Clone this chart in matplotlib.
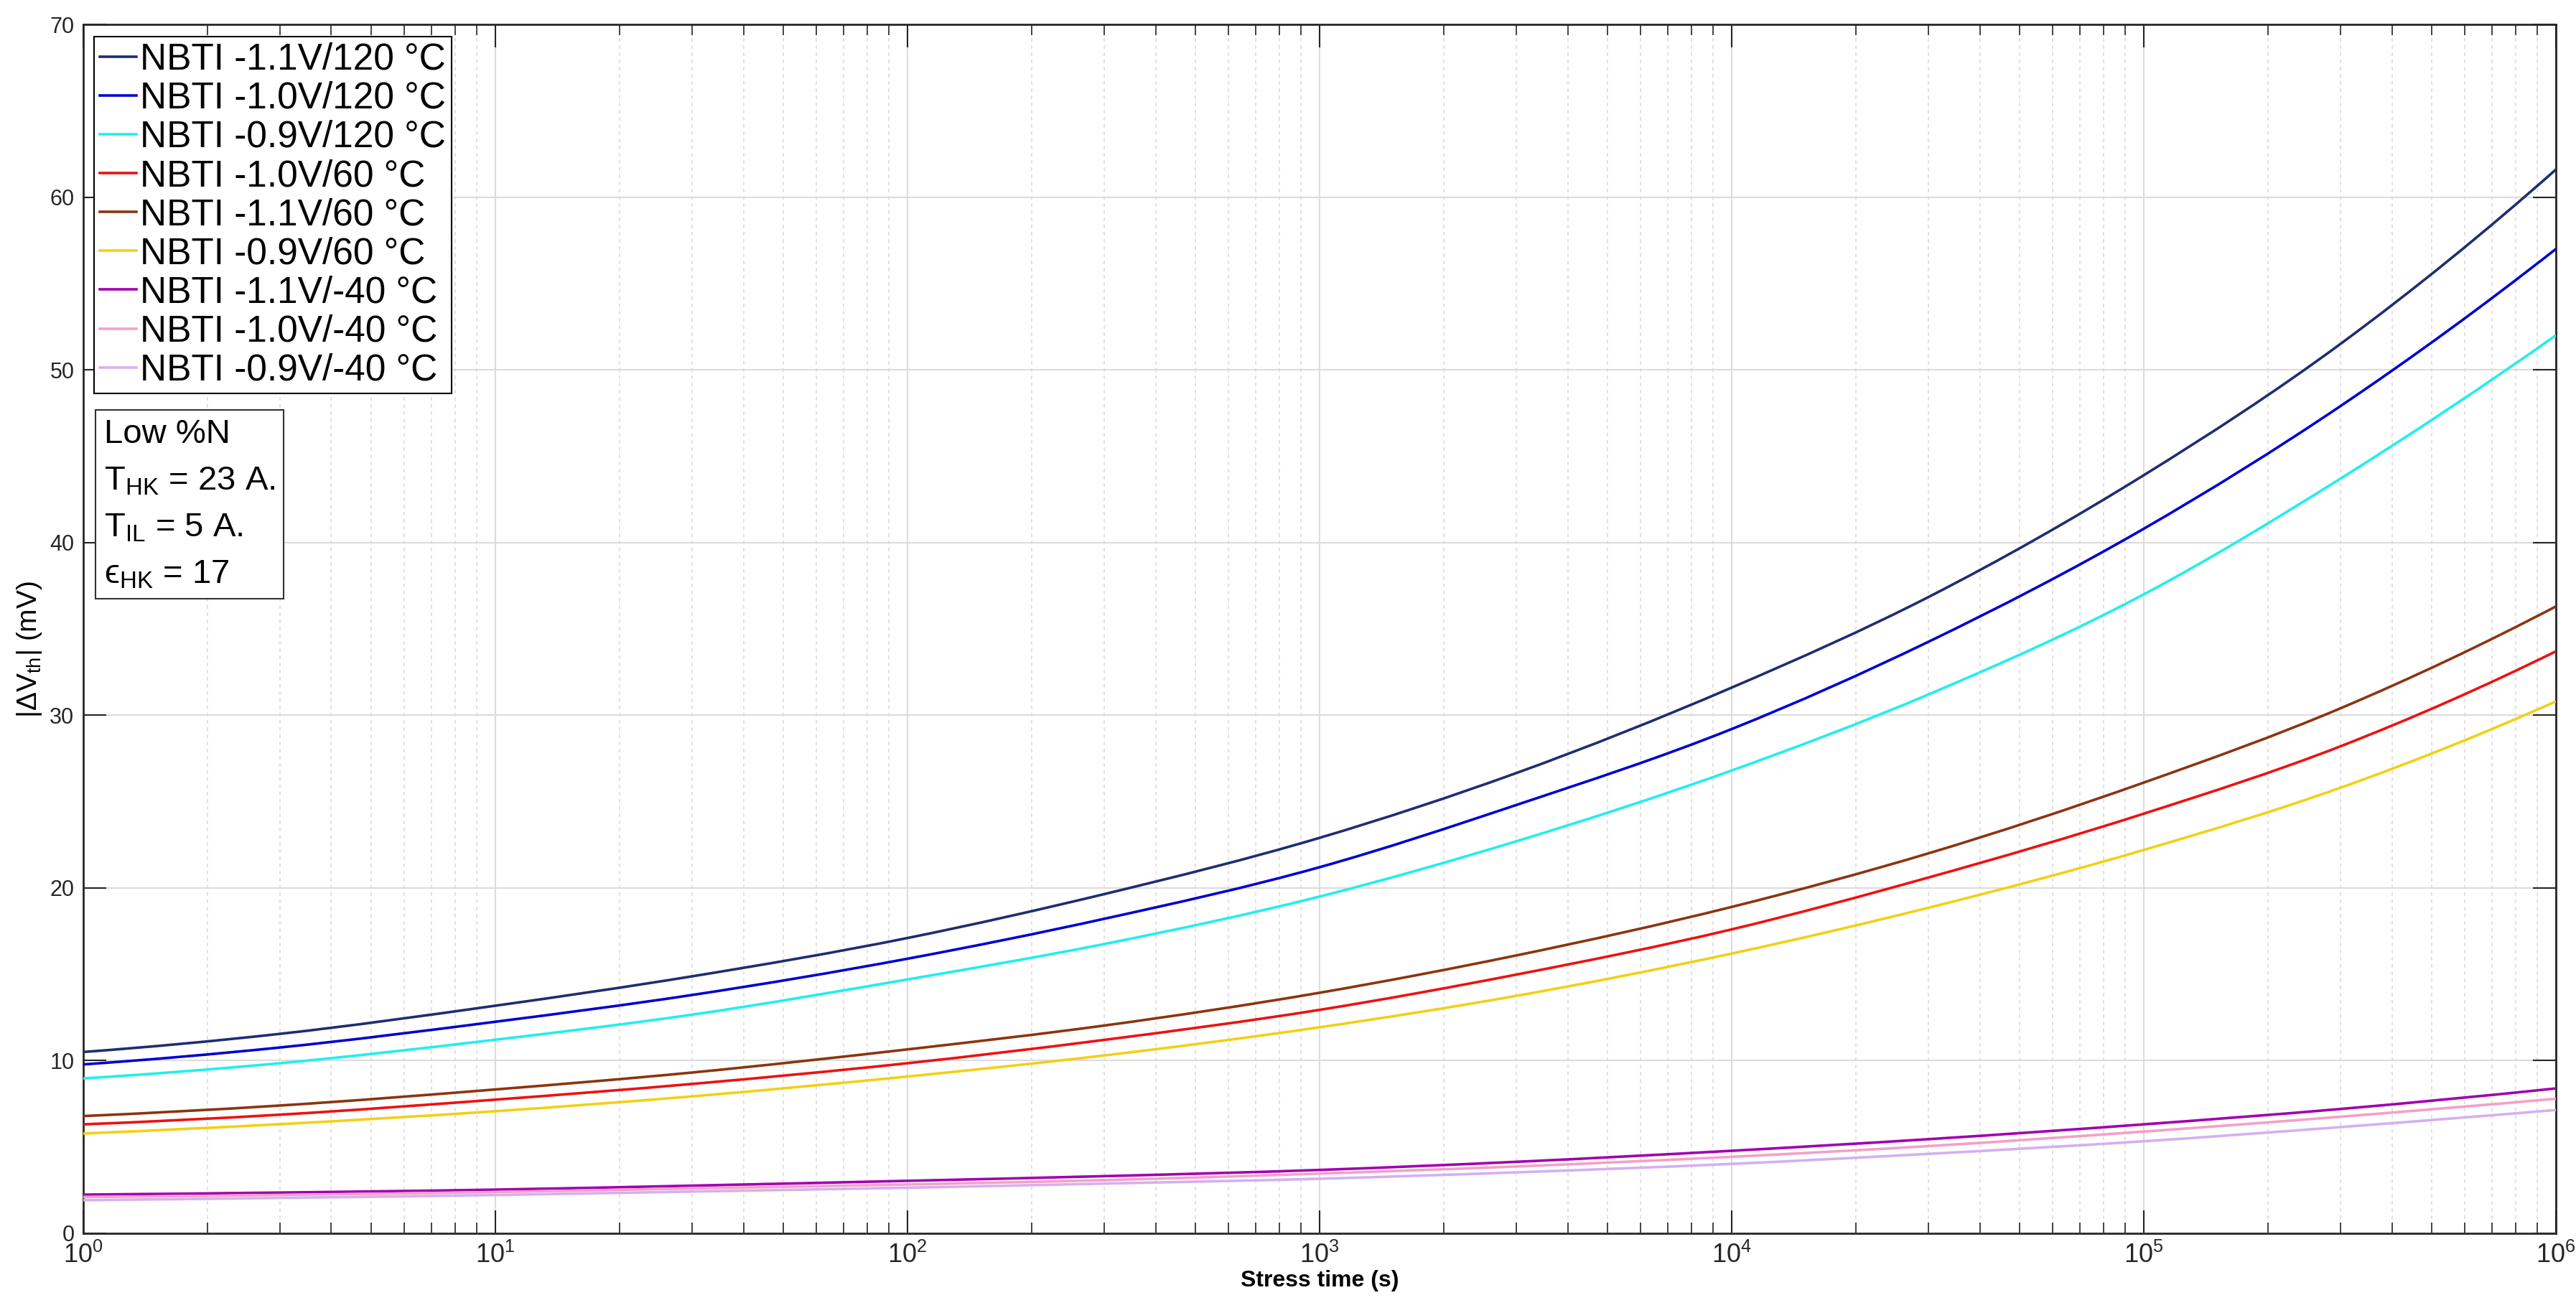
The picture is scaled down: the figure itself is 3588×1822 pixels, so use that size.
import numpy as np
import matplotlib
matplotlib.use('Agg')
import matplotlib.pyplot as plt
from matplotlib.path import Path
from matplotlib.patches import PathPatch
from matplotlib.lines import Line2D

plt.rcParams['font.family'] = ['Liberation Sans', 'DejaVu Sans']
plt.rcParams['mathtext.fontset'] = 'custom'
plt.rcParams['mathtext.rm'] = 'Liberation Sans'
plt.rcParams['mathtext.it'] = 'Liberation Sans:italic'
plt.rcParams['mathtext.bf'] = 'Liberation Sans:bold'

# stress time (s), read at each decade and half decade
stress_time = [1, 3, 10, 30, 100, 300, 1e3, 3e3, 1e4, 3e4, 1e5, 3e5, 1e6]

# |dVth| (mV)
v11_120 = [10.5, 11.55, 13.18, 14.88, 17.1, 19.64, 22.9, 26.65, 31.6, 36.84, 43.9, 51.5, 61.6]
v10_120 = [9.78, 10.76, 12.25, 13.8, 15.9, 18.21, 21.2, 24.8, 29.2, 34.25, 40.8, 47.9, 57.0]
v09_120 = [8.97, 9.85, 11.21, 12.66, 14.7, 16.75, 19.5, 22.7, 26.8, 31.2, 37.0, 43.7, 52.0]
v10_60 = [6.31, 6.87, 7.74, 8.65, 9.85, 11.2, 12.94, 14.98, 17.6, 20.6, 24.3, 28.2, 33.7]
v11_60 = [6.79, 7.4, 8.33, 9.31, 10.65, 12.03, 13.93, 16.09, 18.9, 22.0, 26.1, 30.4, 36.3]
v09_60 = [5.78, 6.32, 7.07, 7.93, 9.08, 10.3, 11.93, 13.75, 16.2, 18.85, 22.2, 25.8, 30.8]
v11_m40 = [2.24, 2.36, 2.53, 2.76, 3.04, 3.31, 3.67, 4.14, 4.78, 5.45, 6.31, 7.2, 8.39]
v10_m40 = [2.1, 2.22, 2.39, 2.6, 2.83, 3.08, 3.46, 3.87, 4.43, 5.05, 5.89, 6.75, 7.79]
v09_m40 = [1.92, 2.05, 2.22, 2.42, 2.64, 2.88, 3.16, 3.53, 4.02, 4.6, 5.33, 6.15, 7.14]

labels = ['NBTI -1.1V/120 °C', 'NBTI -1.0V/120 °C', 'NBTI -0.9V/120 °C',
          'NBTI -1.0V/60 °C', 'NBTI -1.1V/60 °C', 'NBTI -0.9V/60 °C',
          'NBTI -1.1V/-40 °C', 'NBTI -1.0V/-40 °C', 'NBTI -0.9V/-40 °C']
series = [v11_120, v10_120, v09_120, v10_60, v11_60, v09_60, v11_m40, v10_m40, v09_m40]
colors = ['#1f2d72', '#0000d0', '#22eeee', '#ee1111', '#8b3510', '#f2d015',
          '#a000b0', '#f4a0c8', '#d4b0f0']


def smooth_path(t, v):
    # cubic bezier through the read points (smooth in log-time)
    u = np.log10(np.asarray(t, float))
    v = np.asarray(v, float)
    m = np.gradient(v, u, edge_order=2)
    verts = [(t[0], v[0])]
    codes = [Path.MOVETO]
    for i in range(len(u) - 1):
        h = u[i + 1] - u[i]
        verts += [(10 ** (u[i] + h / 3), v[i] + m[i] * h / 3),
                  (10 ** (u[i + 1] - h / 3), v[i + 1] - m[i + 1] * h / 3),
                  (t[i + 1], v[i + 1])]
        codes += [Path.CURVE4] * 3
    return Path(verts, codes)


fig = plt.figure(figsize=(35.88, 18.22), dpi=100)
ax = fig.add_axes([0.0323, 0.0571, 0.9599, 0.9242])
ax.set_xscale('log')
ax.set_xlim(1, 1e6)
ax.set_ylim(0, 70)
ax.set_yticks(np.arange(0, 71, 10))

handles = []
for y, c, lab in zip(series, colors, labels):
    ax.add_patch(PathPatch(smooth_path(stress_time, y), fill=False,
                           edgecolor=c, lw=2.6, zorder=3))
    handles.append(Line2D([], [], color=c, lw=2.6, label=lab))

ax.grid(True, which='major', color='#dcdcdc', lw=1.5, ls='-')
ax.grid(True, which='minor', axis='x', color='#dcdcdc', lw=1.2, ls=(0, (3, 3)))
ax.set_axisbelow(True)

ax.tick_params(which='both', direction='in', top=True, right=True, colors='#262626')
ax.tick_params(which='major', length=23, width=1.5)
ax.tick_params(which='minor', length=11, width=1.2)
ax.tick_params(axis='x', labelsize=26, pad=9)
ax.tick_params(axis='y', labelsize=22, pad=9)
for s in ax.spines.values():
    s.set_linewidth(2)
    s.set_color('#262626')

ax.set_xlabel('Stress time (s)', fontsize=23, fontweight='bold', labelpad=2)
ax.set_ylabel(r'|$\Delta$V$_{\rm th}$| (mV)', fontsize=28)
ax.yaxis.set_label_coords(-0.016, 0.483)

leg = ax.legend(handles=handles, loc='upper left', bbox_to_anchor=(0.0044, 0.99),
                borderaxespad=0, fontsize=37, labelspacing=0.1, handlelength=1.0,
                handletextpad=0.1, borderpad=0.15, fancybox=False, framealpha=1,
                edgecolor='black')
leg.get_frame().set_linewidth(1.5)

info = ('Low %N\n'
        r'T$_{\rm HK}$ = 23 A.' + '\n'
        r'T$_{\rm IL}$ = 5 A.' + '\n'
        r'ϵ$_{\rm HK}$ = 17')
ax.text(0.0085, 0.674, info, transform=ax.transAxes, va='top', ha='left',
        fontsize=34, linespacing=1.62,
        bbox=dict(boxstyle='square,pad=0.25', fc='white', ec='#333333', lw=1.5))

fig.savefig('out.png', dpi=100)
